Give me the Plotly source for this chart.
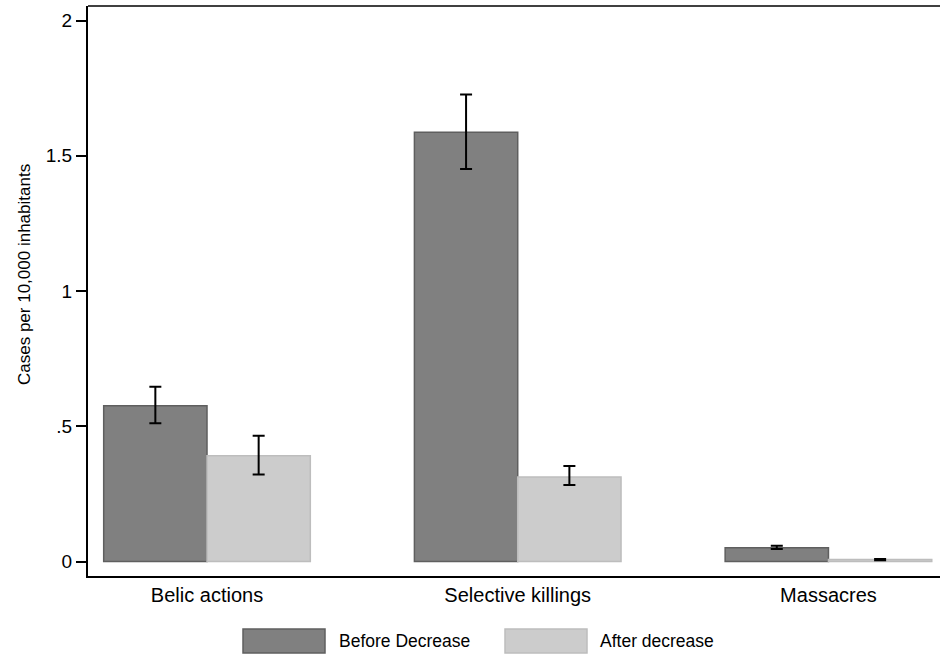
import plotly.graph_objects as go

categories = ["Belic actions", "Selective killings", "Massacres"]
before_mean = [0.576, 1.587, 0.051]
before_lo = [0.511, 1.451, 0.046]
before_hi = [0.646, 1.726, 0.058]
after_mean = [0.391, 0.312, 0.007]
after_lo = [0.322, 0.283, 0.005]
after_hi = [0.465, 0.353, 0.009]
series_names = ["Before Decrease", "After decrease"]
ytick_vals = [0, 0.5, 1, 1.5, 2]
ytick_text = ["0", ".5", "1", "1.5", "2"]

FONT = "Liberation Sans, Arial, sans-serif"
W, H = 940, 657
L, R, T, B = 88, 0, 6, 81
PW, PH = W - L - R, H - T - B


def px_x(px):
    return (px - L) / PW


def px_y(py):
    return (H - B - py) / PH


def err(mean, lo, hi):
    return ([h - m for m, h in zip(mean, hi)], [m - l for m, l in zip(mean, lo)])


fig = go.Figure()
colors = [("#808080", "#5f5f5f"), ("#cccccc", "#bdbdbd")]
for name, mean, lo, hi, (fc, lc) in [
    (series_names[0], before_mean, before_lo, before_hi, colors[0]),
    (series_names[1], after_mean, after_lo, after_hi, colors[1]),
]:
    up, down = err(mean, lo, hi)
    fig.add_trace(go.Bar(
        x=categories, y=mean, name=name,
        marker=dict(color=fc, line=dict(color=lc, width=1.5)),
        error_y=dict(type="data", symmetric=False, array=up, arrayminus=down,
                     color="black", thickness=2, width=6),
        showlegend=False,
    ))

shapes = [dict(type="line", xref="paper", yref="paper", x0=0, x1=1, y0=1, y1=1,
               line=dict(color="#404040", width=2))]
annotations = []
legend_items = [(243, 325, 337, colors[0], series_names[0]),
                (505, 587, 598, colors[1], series_names[1])]
for x0, x1, tx, (fc, lc), label in legend_items:
    shapes.append(dict(type="rect", xref="paper", yref="paper",
                       x0=px_x(x0), x1=px_x(x1), y0=px_y(653), y1=px_y(629),
                       fillcolor=fc, line=dict(color=lc, width=1.5)))
    annotations.append(dict(text=label, xref="paper", yref="paper", x=px_x(tx), y=px_y(641),
                            xanchor="left", yanchor="middle", showarrow=False,
                            font=dict(family=FONT, size=17.5, color="black")))

annotations.append(dict(text="Cases per 10,000 inhabitants", xref="paper", yref="paper",
                        x=px_x(24), y=px_y(275), xanchor="center", yanchor="middle",
                        textangle=-90, showarrow=False,
                        font=dict(family=FONT, size=17, color="black")))

fig.update_layout(
    width=W, height=H,
    margin=dict(l=L, r=R, t=T, b=B, pad=0),
    paper_bgcolor="white", plot_bgcolor="white",
    barmode="group", bargap=0.335, bargroupgap=0,
    font=dict(family=FONT, color="black"),
    shapes=shapes, annotations=annotations,
    xaxis=dict(range=[-0.383, 2.359], showline=True, linecolor="black", linewidth=2,
               ticks="", showgrid=False, zeroline=False,
               tickfont=dict(family=FONT, size=20, color="black")),
    yaxis=dict(range=[-0.0536, 2.0536], tickvals=ytick_vals, ticktext=ytick_text,
               showline=True, linecolor="black", linewidth=2,
               ticks="outside", ticklen=10, tickwidth=1.5, tickcolor="black",
               showgrid=False, zeroline=False,
               tickfont=dict(family=FONT, size=19, color="black")),
)

fig.write_html("out.html")
